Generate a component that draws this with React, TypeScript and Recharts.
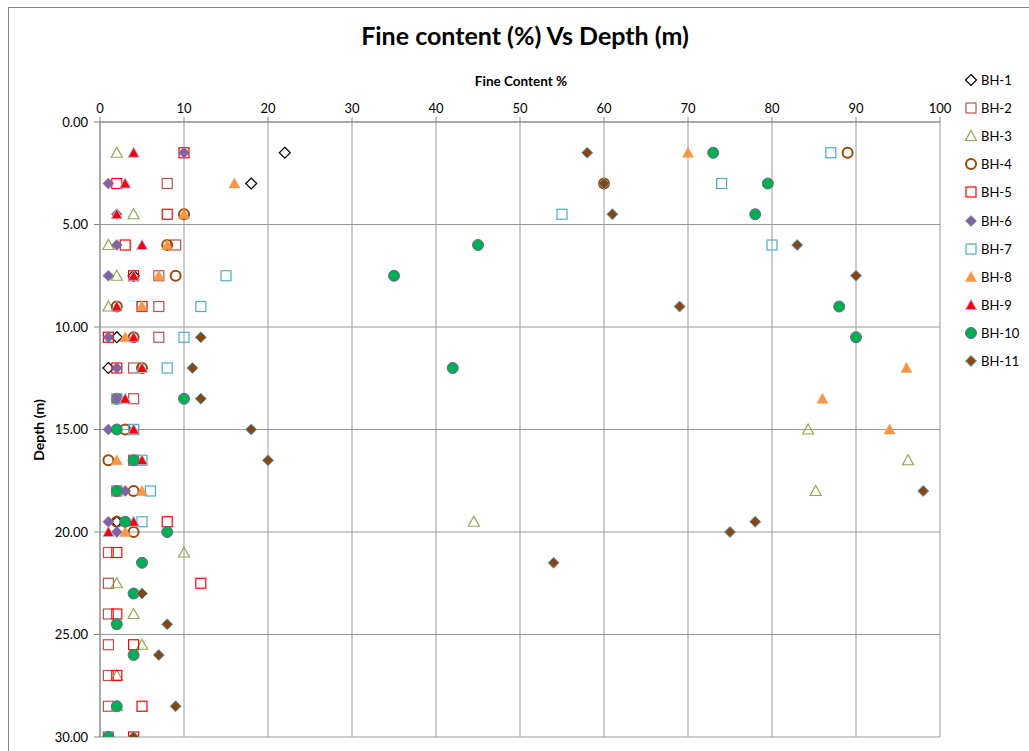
import { ScatterChart, Scatter, XAxis, YAxis, CartesianGrid } from 'recharts';

const FONT = 'Lato, "Open Sans", sans-serif';

// depth (m) and fine content (%) for each borehole
const BH1_DEPTH = [1.5, 3, 7.5, 10.5, 12, 19.5];
const BH1_FINES = [22, 18, 4, 2, 1, 2];

const BH2_DEPTH = [3, 6, 7.5, 9, 10.5, 12, 13.5, 15, 16.5, 18, 21, 22.5, 24, 25.5, 27, 28.5, 30];
const BH2_FINES = [8, 9, 7, 7, 7, 4, 4, 4, 4, 2, 1, 1, 1, 1, 1, 1, 1];

const BH3_DEPTH = [1.5, 4.5, 6, 7.5, 9, 15, 16.5, 18, 19.5, 21, 22.5, 24, 25.5, 27, 28.5, 30];
const BH3_FINES = [2, 4, 1, 2, 1, 84.3, 96.2, 85.2, 44.5, 10, 2, 4, 5, 2, 2, 1];

const BH4_DEPTH = [1.5, 3, 4.5, 6, 7.5, 9, 10.5, 12, 13.5, 15, 16.5, 18, 19.5, 20];
const BH4_FINES = [89, 60, 10, 8, 9, 2, 4, 5, 2, 3, 1, 4, 2, 4];

const BH5_DEPTH = [1.5, 3, 4.5, 6, 7.5, 9, 10.5, 12, 19.5, 21, 22.5, 24, 25.5, 27, 28.5, 30];
const BH5_FINES = [10, 2, 8, 3, 4, 5, 1, 2, 8, 2, 12, 2, 4, 2, 5, 4];

const BH6_DEPTH = [1.5, 3, 4.5, 6, 7.5, 10.5, 12, 13.5, 15, 18, 19.5, 20];
const BH6_FINES = [10, 1, 2, 2, 1, 1, 2, 2, 1, 3, 1, 2];

const BH7_DEPTH = [1.5, 3, 4.5, 6, 7.5, 9, 10.5, 12, 13.5, 15, 16.5, 18, 19.5];
const BH7_FINES = [87, 74, 55, 80, 15, 12, 10, 8, 2, 4, 5, 6, 5];

const BH8_DEPTH = [1.5, 3, 4.5, 6, 7.5, 9, 10.5, 12, 13.5, 15, 16.5, 18, 20];
const BH8_FINES = [70, 16, 10, 8, 7, 5, 3, 96, 86, 94, 2, 5, 3];

const BH9_DEPTH = [1.5, 3, 4.5, 6, 7.5, 9, 10.5, 12, 13.5, 15, 16.5, 19.5, 20];
const BH9_FINES = [4, 3, 2, 5, 4, 2, 4, 5, 3, 4, 5, 4, 1];

const BH10_DEPTH = [1.5, 3, 4.5, 6, 7.5, 9, 10.5, 12, 13.5, 15, 16.5, 18, 19.5, 20, 21.5, 23, 24.5, 26, 28.5, 30];
const BH10_FINES = [73, 79.5, 78, 45, 35, 88, 90, 42, 10, 2, 4, 2, 3, 8, 5, 4, 2, 4, 2, 1];

const BH11_DEPTH = [1.5, 3, 4.5, 6, 7.5, 9, 10.5, 12, 13.5, 15, 16.5, 18, 19.5, 20, 21.5, 23, 24.5, 26, 28.5, 30];
const BH11_FINES = [58, 60, 61, 83, 90, 69, 12, 11, 12, 18, 20, 98, 78, 75, 54, 5, 8, 7, 9, 4];

const X_TICKS = [0, 10, 20, 30, 40, 50, 60, 70, 80, 90, 100];
const Y_TICKS = [0, 5, 10, 15, 20, 25, 30];

type MarkerKind = 'diamond' | 'square' | 'triangle' | 'circle';

interface SeriesDef {
  name: string;
  depth: number[];
  fines: number[];
  marker: MarkerKind;
  fill: string;
  stroke: string;
  strokeWidth: number;
}

const SERIES: SeriesDef[] = [
  { name: 'BH-1', depth: BH1_DEPTH, fines: BH1_FINES, marker: 'diamond', fill: 'none', stroke: '#000000', strokeWidth: 1.2 },
  { name: 'BH-2', depth: BH2_DEPTH, fines: BH2_FINES, marker: 'square', fill: 'none', stroke: '#C0504D', strokeWidth: 1.2 },
  { name: 'BH-3', depth: BH3_DEPTH, fines: BH3_FINES, marker: 'triangle', fill: 'none', stroke: '#8EAA4F', strokeWidth: 1.2 },
  { name: 'BH-4', depth: BH4_DEPTH, fines: BH4_FINES, marker: 'circle', fill: 'none', stroke: '#984807', strokeWidth: 2 },
  { name: 'BH-5', depth: BH5_DEPTH, fines: BH5_FINES, marker: 'square', fill: 'none', stroke: '#FF0000', strokeWidth: 1.2 },
  { name: 'BH-6', depth: BH6_DEPTH, fines: BH6_FINES, marker: 'diamond', fill: '#8064A2', stroke: '#8064A2', strokeWidth: 0.5 },
  { name: 'BH-7', depth: BH7_DEPTH, fines: BH7_FINES, marker: 'square', fill: 'none', stroke: '#4BACC6', strokeWidth: 1.2 },
  { name: 'BH-8', depth: BH8_DEPTH, fines: BH8_FINES, marker: 'triangle', fill: '#F79646', stroke: '#F79646', strokeWidth: 0.5 },
  { name: 'BH-9', depth: BH9_DEPTH, fines: BH9_FINES, marker: 'triangle', fill: '#FF0000', stroke: '#A9B3DD', strokeWidth: 1 },
  { name: 'BH-10', depth: BH10_DEPTH, fines: BH10_FINES, marker: 'circle', fill: '#00B050', stroke: '#7060A0', strokeWidth: 1 },
  { name: 'BH-11', depth: BH11_DEPTH, fines: BH11_FINES, marker: 'diamond', fill: '#8B4513', stroke: '#4BACC6', strokeWidth: 1 },
];

function Marker({ cx, cy, s }: { cx: number; cy: number; s: SeriesDef }) {
  const common = { fill: s.fill, stroke: s.stroke, strokeWidth: s.strokeWidth };
  switch (s.marker) {
    case 'square':
      return <rect x={cx - 5} y={cy - 5} width={10} height={10} {...common} />;
    case 'triangle':
      return <polygon points={`${cx},${cy - 5.5} ${cx + 5.5},${cy + 4.5} ${cx - 5.5},${cy + 4.5}`} {...common} />;
    case 'circle':
      return <circle cx={cx} cy={cy} r={s.fill === 'none' ? 5 : 5.5} {...common} />;
    default: {
      const r = 5.5;
      return <polygon points={`${cx},${cy - r} ${cx + r},${cy} ${cx},${cy + r} ${cx - r},${cy}`} {...common} />;
    }
  }
}

const LegendBox = () => (
  <div style={{ position: 'absolute', left: 963, top: 66, fontFamily: FONT, fontSize: 13, color: '#000' }}>
    {SERIES.map((s) => (
      <div key={s.name} style={{ display: 'flex', alignItems: 'center', height: 28.1 }}>
        <svg width={16} height={16} style={{ marginRight: 2 }}>
          <Marker cx={8} cy={8} s={s} />
        </svg>
        <span>{s.name}</span>
      </div>
    ))}
  </div>
);

export default function App() {
  return (
    <div style={{ position: 'absolute', left: 0, top: 0, width: 1029, height: 751, overflow: 'hidden', background: '#fff' }}>
      {/* chart area frame, runs off the right and bottom */}
      <div style={{ position: 'absolute', left: 8, top: 7, width: 1040, height: 760, border: '1px solid #868686' }} />

      <div style={{ position: 'absolute', left: 0, width: 1050, top: 20, textAlign: 'center', fontFamily: FONT, fontWeight: 700, fontSize: 25, color: '#000' }}>
        Fine content (%) Vs Depth (m)
      </div>
      <div style={{ position: 'absolute', left: 421, width: 200, top: 73, textAlign: 'center', fontFamily: FONT, fontWeight: 700, fontSize: 13.5, color: '#000' }}>
        Fine Content %
      </div>
      <div style={{ position: 'absolute', left: 38, top: 430, transform: 'translate(-50%, -50%) rotate(-90deg)', fontFamily: FONT, fontWeight: 700, fontSize: 14, color: '#000', whiteSpace: 'nowrap' }}>
        Depth (m)
      </div>

      <div style={{ position: 'absolute', left: 0, top: 0 }}>
        <ScatterChart width={1029} height={751} margin={{ top: 92, right: 89, bottom: 14, left: 40 }}>
          <CartesianGrid stroke="#9A9A9A" strokeWidth={1} />
          <XAxis
            type="number"
            dataKey="fines"
            orientation="top"
            domain={[0, 100]}
            ticks={X_TICKS}
            height={30}
            tickSize={5}
            tickMargin={4}
            tick={{ fill: '#000', fontSize: 13, fontFamily: FONT }}
            axisLine={{ stroke: '#868686' }}
            tickLine={{ stroke: '#868686' }}
            allowDataOverflow
          />
          <YAxis
            type="number"
            dataKey="depth"
            reversed
            domain={[0, 30]}
            ticks={Y_TICKS}
            width={60}
            tickSize={6}
            tickMargin={6}
            tickFormatter={(v: number) => v.toFixed(2)}
            tick={{ fill: '#000', fontSize: 13, fontFamily: FONT }}
            axisLine={{ stroke: '#868686' }}
            tickLine={{ stroke: '#868686' }}
            allowDataOverflow
          />
          {SERIES.map((s) => (
            <Scatter
              key={s.name}
              name={s.name}
              data={s.depth.map((d, i) => ({ depth: d, fines: s.fines[i] }))}
              isAnimationActive={false}
              shape={(p: any) => <Marker cx={p.cx} cy={p.cy} s={s} />}
            />
          ))}
        </ScatterChart>
      </div>

      <LegendBox />
    </div>
  );
}
